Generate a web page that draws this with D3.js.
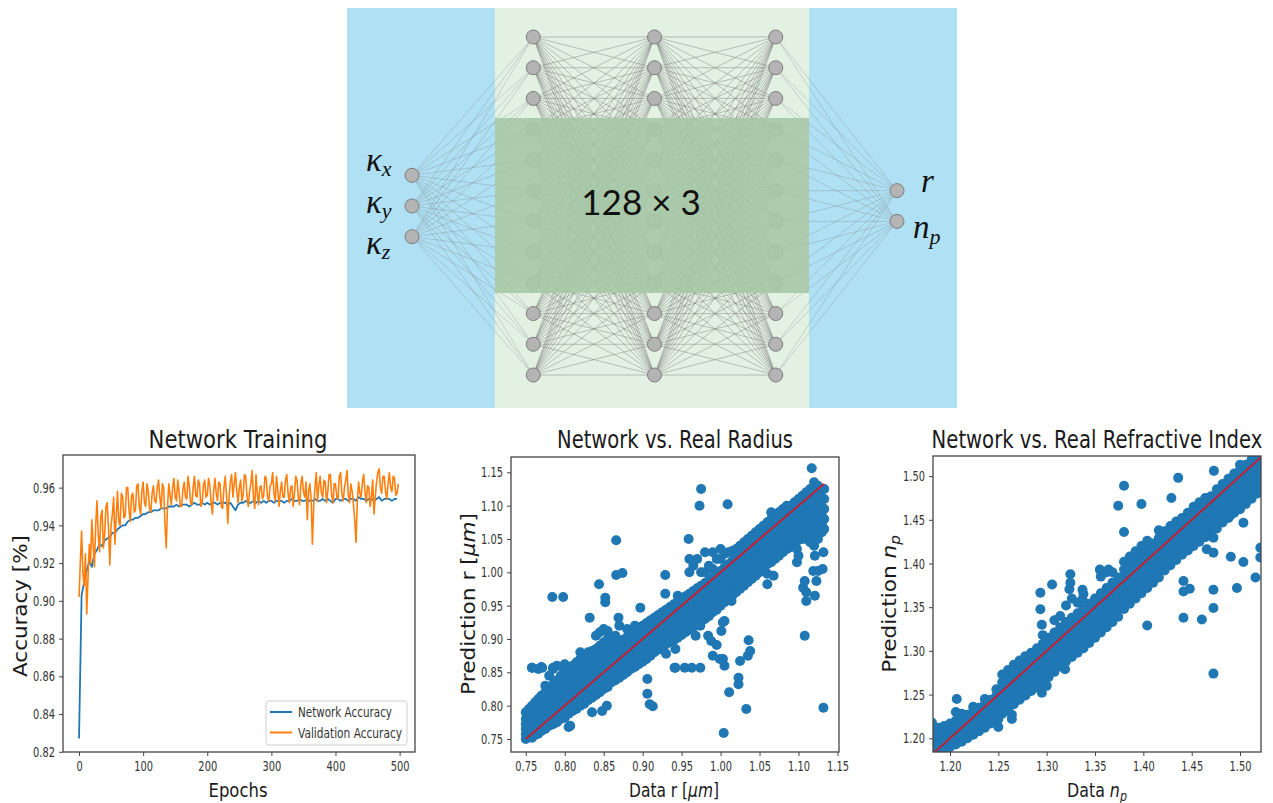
<!DOCTYPE html>
<html>
<head>
<meta charset="utf-8">
<script src="https://cdn.jsdelivr.net/npm/d3@7"></script>
<style>
  body { margin: 0; background: #fff; }
  svg { display: block; }
</style>
</head>
<body>
<div id="chart"></div>
<script>
// ---------- network diagram ----------
const layerNames = ["input", "hidden1", "hidden2", "hidden3", "output"];
const layerSizes = [3, 12, 12, 12, 2];
const inputSubs = ["x", "y", "z"];
const outputLabels = [["r", ""], ["n", "p"]];
const hiddenLabel = "128 × 3";

// ---------- training curves ----------
// network accuracy read every 4 epochs, validation accuracy every 2 epochs
const networkEpochs = d3.range(0, 500, 4);
const networkAcc = [
  0.827,0.903,0.910,0.916,0.921,0.918,0.925,0.927,0.930,0.929,
  0.932,0.933,0.934,0.936,0.936,0.938,0.939,0.940,0.940,0.942,
  0.943,0.943,0.944,0.944,0.945,0.946,0.946,0.947,0.947,0.948,
  0.948,0.948,0.949,0.949,0.949,0.950,0.950,0.950,0.951,0.950,
  0.951,0.951,0.951,0.950,0.951,0.952,0.951,0.951,0.952,0.951,
  0.952,0.951,0.952,0.952,0.951,0.952,0.952,0.952,0.951,0.952,
  0.950,0.948,0.951,0.952,0.952,0.953,0.952,0.952,0.953,0.952,
  0.953,0.952,0.953,0.952,0.953,0.953,0.952,0.953,0.953,0.953,
  0.952,0.953,0.953,0.954,0.953,0.953,0.954,0.953,0.953,0.954,
  0.953,0.953,0.954,0.953,0.953,0.954,0.953,0.954,0.953,0.952,
  0.954,0.954,0.953,0.954,0.954,0.953,0.954,0.954,0.953,0.955,
  0.954,0.954,0.953,0.954,0.954,0.953,0.954,0.955,0.953,0.954,
  0.954,0.954,0.953,0.954,0.954
];
const validationEpochs = d3.range(0, 500, 2);
const validationAcc = [
  0.902,0.920,0.937,0.915,0.908,0.925,0.893,0.912,0.930,0.920,0.943,0.930,0.918,0.940,0.953,0.935,0.926,0.945,0.948,0.928,
  0.935,0.950,0.952,0.938,0.919,0.940,0.946,0.955,0.930,0.945,0.958,0.942,0.940,0.957,0.955,0.944,0.945,0.960,0.960,0.948,
  0.942,0.956,0.957,0.947,0.948,0.961,0.962,0.950,0.946,0.958,0.963,0.952,0.950,0.962,0.958,0.949,0.947,0.957,0.961,0.953,
  0.952,0.960,0.964,0.955,0.949,0.962,0.960,0.941,0.928,0.950,0.962,0.956,0.951,0.960,0.965,0.955,0.953,0.964,0.958,0.950,
  0.950,0.959,0.963,0.955,0.954,0.966,0.961,0.952,0.951,0.960,0.966,0.956,0.955,0.964,0.962,0.950,0.952,0.961,0.964,0.955,
  0.956,0.965,0.961,0.952,0.946,0.958,0.965,0.957,0.953,0.963,0.962,0.950,0.949,0.960,0.966,0.956,0.941,0.955,0.963,0.967,
  0.955,0.962,0.968,0.958,0.952,0.960,0.964,0.953,0.956,0.967,0.966,0.955,0.950,0.958,0.962,0.969,0.955,0.949,0.967,0.957,
  0.951,0.960,0.961,0.954,0.956,0.966,0.965,0.955,0.953,0.961,0.962,0.968,0.957,0.953,0.966,0.959,0.950,0.958,0.963,0.955,
  0.955,0.964,0.967,0.957,0.952,0.960,0.961,0.950,0.957,0.966,0.964,0.955,0.951,0.962,0.966,0.958,0.955,0.963,0.943,0.958,
  0.962,0.954,0.930,0.950,0.960,0.968,0.953,0.961,0.966,0.957,0.955,0.964,0.963,0.952,0.958,0.967,0.967,0.956,0.952,0.962,
  0.962,0.955,0.954,0.966,0.968,0.957,0.953,0.960,0.964,0.969,0.956,0.952,0.962,0.958,0.951,0.943,0.931,0.952,0.963,0.957,
  0.955,0.963,0.967,0.958,0.952,0.961,0.960,0.950,0.955,0.964,0.946,0.955,0.963,0.968,0.970,0.960,0.957,0.966,0.966,0.958,
  0.954,0.962,0.968,0.960,0.958,0.966,0.965,0.956,0.957,0.962
];
const epochTicks = [0, 100, 200, 300, 400, 500];
const accTicks = [0.82, 0.84, 0.86, 0.88, 0.90, 0.92, 0.94, 0.96];

// ---------- radius scatter: columns [data r, predicted r values] ----------
const radiusColumns = [
  [0.750,[0.750,0.757,0.765,0.772,0.780,0.790]],
  [0.754,[0.753,0.760,0.768,0.776,0.785,0.795]],
  [0.758,[0.752,0.762,0.770,0.778,0.787,0.800,0.857]],
  [0.762,[0.756,0.765,0.773,0.782,0.792,0.805]],
  [0.766,[0.758,0.768,0.777,0.786,0.796,0.810,0.855]],
  [0.770,[0.762,0.771,0.780,0.790,0.800,0.815,0.858]],
  [0.775,[0.765,0.775,0.785,0.795,0.806,0.820,0.830]],
  [0.780,[0.770,0.780,0.790,0.800,0.812,0.825,0.845]],
  [0.785,[0.772,0.783,0.794,0.806,0.818,0.832,0.855]],
  [0.790,[0.775,0.788,0.800,0.812,0.824,0.838,0.860]],
  [0.795,[0.780,0.792,0.804,0.816,0.830,0.845]],
  [0.800,[0.782,0.795,0.808,0.820,0.834,0.850,0.862]],
  [0.805,[0.768,0.788,0.800,0.813,0.826,0.840,0.855]],
  [0.810,[0.792,0.805,0.818,0.831,0.845,0.860]],
  [0.815,[0.795,0.808,0.822,0.836,0.850,0.865]],
  [0.820,[0.800,0.813,0.826,0.840,0.855,0.870,0.880]],
  [0.825,[0.803,0.817,0.830,0.845,0.860,0.875]],
  [0.830,[0.808,0.822,0.835,0.850,0.865,0.880]],
  [0.835,[0.790,0.812,0.826,0.840,0.855,0.868,0.882]],
  [0.840,[0.816,0.830,0.845,0.858,0.872,0.885,0.905]],
  [0.845,[0.820,0.834,0.848,0.862,0.876,0.890,0.910]],
  [0.850,[0.825,0.838,0.852,0.866,0.880,0.895,0.915]],
  [0.855,[0.828,0.842,0.856,0.870,0.884,0.900,0.912]],
  [0.860,[0.835,0.848,0.861,0.874,0.888,0.902]],
  [0.865,[0.838,0.852,0.865,0.878,0.892,0.905]],
  [0.870,[0.842,0.856,0.869,0.882,0.895,0.920]],
  [0.875,[0.846,0.860,0.873,0.886,0.899]],
  [0.880,[0.850,0.864,0.877,0.890,0.903,0.915]],
  [0.885,[0.855,0.868,0.882,0.895,0.908]],
  [0.890,[0.858,0.872,0.886,0.899,0.912,0.920]],
  [0.895,[0.862,0.876,0.890,0.903,0.916]],
  [0.900,[0.866,0.880,0.894,0.907,0.920]],
  [0.905,[0.870,0.884,0.898,0.911,0.924]],
  [0.910,[0.875,0.888,0.902,0.915,0.928]],
  [0.915,[0.880,0.893,0.906,0.919,0.932]],
  [0.920,[0.884,0.897,0.910,0.923,0.936]],
  [0.925,[0.888,0.901,0.914,0.927,0.940]],
  [0.930,[0.878,0.892,0.905,0.918,0.931,0.944]],
  [0.935,[0.895,0.909,0.922,0.935,0.948]],
  [0.940,[0.898,0.912,0.926,0.939,0.952]],
  [0.945,[0.902,0.916,0.930,0.943,0.956,0.965]],
  [0.950,[0.906,0.920,0.934,0.947,0.960]],
  [0.955,[0.910,0.924,0.938,0.951,0.964]],
  [0.960,[0.914,0.928,0.942,0.955,0.968,1.000,1.020]],
  [0.965,[0.918,0.932,0.946,0.959,0.972,1.010]],
  [0.970,[0.922,0.936,0.950,0.963,0.976,1.020]],
  [0.975,[0.926,0.940,0.954,0.967,0.980,1.000]],
  [0.980,[0.930,0.944,0.958,0.971,0.984,1.000,1.030]],
  [0.985,[0.934,0.948,0.962,0.975,0.988,1.010]],
  [0.990,[0.940,0.953,0.966,0.979,0.992,1.005,1.030]],
  [0.995,[0.944,0.958,0.971,0.984,0.997,1.020]],
  [1.000,[0.950,0.963,0.976,0.989,1.002,1.020,1.035]],
  [1.005,[0.955,0.968,0.981,0.994,1.007,1.028]],
  [1.010,[0.960,0.973,0.986,0.999,1.012,1.030]],
  [1.015,[0.965,0.978,0.991,1.004,1.017,1.032]],
  [1.020,[0.970,0.983,0.996,1.009,1.022,1.035]],
  [1.025,[0.975,0.988,1.001,1.014,1.027,1.040]],
  [1.030,[0.980,0.993,1.006,1.019,1.032,1.045]],
  [1.035,[0.985,0.998,1.011,1.024,1.037,1.050]],
  [1.040,[0.990,1.003,1.016,1.029,1.042,1.055]],
  [1.045,[0.995,1.008,1.021,1.034,1.047,1.060]],
  [1.050,[1.000,1.013,1.026,1.039,1.052,1.065]],
  [1.055,[1.005,1.018,1.031,1.044,1.057,1.070]],
  [1.060,[0.998,1.012,1.025,1.038,1.051,1.064,1.075]],
  [1.065,[1.015,1.028,1.041,1.054,1.067,1.080,1.090]],
  [1.070,[1.020,1.033,1.046,1.059,1.072,1.085]],
  [1.075,[1.025,1.038,1.051,1.064,1.077,1.090]],
  [1.080,[1.030,1.043,1.056,1.069,1.082,1.095]],
  [1.085,[1.035,1.048,1.061,1.074,1.087,1.100]],
  [1.090,[1.040,1.053,1.066,1.079,1.092,1.100]],
  [1.095,[1.045,1.058,1.071,1.084,1.097,1.105]],
  [1.100,[1.048,1.061,1.074,1.087,1.100,1.110]],
  [1.105,[1.050,1.063,1.076,1.089,1.102,1.115]],
  [1.110,[1.050,1.063,1.076,1.089,1.102,1.120]],
  [1.115,[1.045,1.058,1.071,1.084,1.097,1.110,1.125]],
  [1.120,[1.040,1.055,1.068,1.081,1.094,1.107,1.120,1.135]],
  [1.125,[1.050,1.065,1.078,1.091,1.104,1.117,1.130]],
  [1.130,[1.060,1.072,1.085,1.098,1.111,1.124]],
  [1.133,[1.065,1.080,1.095,1.110,1.125]]
];
const radiusOutliers = [
  [0.866,1.048],[0.784,0.963],[0.798,0.963],[0.844,0.982],[0.866,0.996],[0.874,0.999],
  [0.929,0.996],[0.929,0.968],[0.852,0.962],[0.852,0.955],[0.897,0.947],[0.832,0.932],
  [0.869,0.932],[0.906,0.840],[0.906,0.818],[0.909,0.802],[0.913,0.799],[0.941,0.857],
  [0.807,0.770],[0.854,0.800],[0.848,0.792],[0.758,0.857],[0.771,0.857],[0.785,0.857],
  [0.798,0.857],[1.117,1.156],[0.975,1.125],[0.973,1.100],[1.009,1.102],[0.959,1.050],
  [1.108,0.905],[1.132,0.797],[1.004,0.759],[1.033,0.795],[1.011,0.820],[1.023,0.842],
  [1.023,0.832],[1.025,0.867],[1.035,0.875],[1.038,0.882],[1.036,0.898],[0.990,0.875],
  [0.999,0.870],[1.003,0.870],[1.005,0.860],[1.001,0.912],[1.005,0.927],[1.003,0.925],
  [0.984,0.905],[0.988,0.897],[0.995,0.891],[0.942,0.857],[0.954,0.857],[0.963,0.857],
  [0.974,0.857],[0.942,0.885],[1.108,0.987],[1.106,0.977],[1.110,0.970],[1.110,0.957],
  [1.121,0.965],[1.132,1.030],[1.131,1.005],[1.125,1.002],[1.119,1.002],[1.123,0.987],
  [1.121,1.025],[1.098,1.035],[1.100,1.025],[1.098,1.015],[1.060,0.982],[1.068,0.995],
  [1.014,0.957],[1.011,0.975],[0.974,0.920],[0.968,0.905],[1.086,1.045],[1.088,1.037]
];
const radiusFit = [0.75, 1.133];
const radiusTicks = [0.75, 0.80, 0.85, 0.90, 0.95, 1.00, 1.05, 1.10, 1.15];

// ---------- refractive index scatter ----------
const indexColumns = [
  [1.182,[1.183,1.192,1.201,1.210]],
  [1.188,[1.185,1.194,1.203,1.212]],
  [1.194,[1.187,1.196,1.205,1.214]],
  [1.200,[1.190,1.199,1.208,1.217]],
  [1.206,[1.193,1.202,1.211,1.220,1.230]],
  [1.212,[1.196,1.205,1.214,1.223,1.228]],
  [1.218,[1.200,1.209,1.218,1.227]],
  [1.224,[1.204,1.213,1.222,1.231,1.236]],
  [1.230,[1.208,1.217,1.226,1.235]],
  [1.236,[1.212,1.221,1.230,1.239,1.245]],
  [1.242,[1.217,1.226,1.235,1.244]],
  [1.248,[1.222,1.231,1.240,1.249,1.256]],
  [1.254,[1.228,1.237,1.246,1.255,1.264,1.273]],
  [1.260,[1.233,1.242,1.251,1.260,1.269,1.278]],
  [1.266,[1.239,1.248,1.257,1.266,1.275,1.284]],
  [1.272,[1.244,1.253,1.262,1.271,1.280,1.289]],
  [1.278,[1.249,1.258,1.267,1.276,1.285,1.294]],
  [1.284,[1.254,1.263,1.272,1.281,1.290,1.298]],
  [1.290,[1.258,1.267,1.276,1.285,1.294,1.303]],
  [1.296,[1.263,1.272,1.281,1.290,1.299,1.308,1.318]],
  [1.302,[1.270,1.279,1.288,1.297,1.306,1.315]],
  [1.308,[1.276,1.285,1.294,1.303,1.312,1.321,1.335]],
  [1.314,[1.282,1.291,1.300,1.309,1.318,1.327,1.340]],
  [1.320,[1.288,1.297,1.306,1.315,1.324,1.333,1.352]],
  [1.326,[1.293,1.302,1.311,1.320,1.329,1.338,1.360]],
  [1.332,[1.298,1.307,1.316,1.325,1.334,1.343,1.355]],
  [1.338,[1.303,1.312,1.321,1.330,1.339,1.348,1.365]],
  [1.344,[1.309,1.318,1.327,1.336,1.345,1.354]],
  [1.350,[1.315,1.324,1.333,1.342,1.351,1.360]],
  [1.356,[1.321,1.330,1.339,1.348,1.357,1.366,1.385]],
  [1.362,[1.327,1.336,1.345,1.354,1.363,1.372,1.390]],
  [1.368,[1.333,1.342,1.351,1.360,1.369,1.378,1.390]],
  [1.374,[1.339,1.348,1.357,1.366,1.375,1.384]],
  [1.380,[1.348,1.357,1.366,1.375,1.384,1.393,1.402]],
  [1.386,[1.354,1.363,1.372,1.381,1.390,1.399,1.408]],
  [1.392,[1.360,1.369,1.378,1.387,1.396,1.405,1.414]],
  [1.398,[1.366,1.375,1.384,1.393,1.402,1.411,1.420]],
  [1.404,[1.372,1.381,1.390,1.399,1.408,1.417,1.426]],
  [1.410,[1.378,1.387,1.396,1.405,1.414,1.423]],
  [1.416,[1.384,1.393,1.402,1.411,1.420,1.429,1.438]],
  [1.422,[1.392,1.401,1.410,1.419,1.428,1.437]],
  [1.428,[1.398,1.407,1.416,1.425,1.434,1.443]],
  [1.434,[1.404,1.413,1.422,1.431,1.440,1.448]],
  [1.440,[1.410,1.419,1.428,1.437,1.446,1.452]],
  [1.446,[1.415,1.424,1.433,1.442,1.451,1.458]],
  [1.452,[1.420,1.429,1.438,1.447,1.456,1.465]],
  [1.458,[1.425,1.434,1.443,1.452,1.461,1.470]],
  [1.464,[1.430,1.439,1.448,1.457,1.466,1.475]],
  [1.470,[1.432,1.441,1.450,1.459,1.468,1.477]],
  [1.476,[1.440,1.449,1.458,1.467,1.476,1.485]],
  [1.482,[1.447,1.456,1.465,1.474,1.483,1.491]],
  [1.488,[1.452,1.461,1.470,1.479,1.488,1.497]],
  [1.494,[1.458,1.467,1.476,1.485,1.494,1.503]],
  [1.500,[1.462,1.471,1.480,1.489,1.498,1.507,1.513]],
  [1.506,[1.468,1.477,1.486,1.495,1.504,1.513]],
  [1.512,[1.474,1.483,1.492,1.501,1.510,1.519]],
  [1.518,[1.480,1.489,1.498,1.507,1.516,1.524]],
  [1.522,[1.485,1.494,1.503,1.512]]
];
const indexOutliers = [
  [1.1814,1.2178],[1.207,1.245],[1.250,1.213],[1.250,1.222],[1.264,1.227],[1.264,1.222],
  [1.2935,1.3666],[1.2935,1.3476],[1.295,1.330],[1.3056,1.376],[1.3245,1.3877],[1.3245,1.378],
  [1.3235,1.3705],[1.300,1.260],[1.295,1.252],[1.319,1.279],[1.337,1.370],[1.337,1.359],
  [1.380,1.489],[1.374,1.466],[1.398,1.468],[1.380,1.436],[1.436,1.498],[1.429,1.475],
  [1.473,1.506],[1.404,1.329],[1.4415,1.380],[1.4415,1.368],[1.448,1.371],[1.4415,1.338],
  [1.4605,1.336],[1.4725,1.370],[1.4725,1.349],[1.4725,1.274],[1.4968,1.372],[1.4905,1.4078],
  [1.5035,1.4017],[1.516,1.384],[1.521,1.418],[1.521,1.407],[1.5035,1.4467],[1.490,1.455],
  [1.4725,1.4296],[1.4725,1.4124],[1.4656,1.4163],[1.355,1.393],[1.364,1.393],[1.4225,1.395]
];
const indexFit = [1.17, 1.53];
const indexTicks = [1.20, 1.25, 1.30, 1.35, 1.40, 1.45, 1.50];

const BLUE = "#1f77b4", ORANGE = "#ff7f0e";
const plotFont = "'DejaVu Sans', sans-serif";

const svg = d3.select("#chart").append("svg")
    .attr("width", 1273)
    .attr("height", 803);
svg.append("rect").attr("width", 1273).attr("height", 803).attr("fill", "#fff");

// ======== network diagram ========
const diagram = svg.append("g");
diagram.append("rect").attr("x", 347).attr("y", 8).attr("width", 610).attr("height", 400).attr("fill", "#afe0f3");
diagram.append("rect").attr("x", 495).attr("y", 8).attr("width", 314).attr("height", 400).attr("fill", "#e3f1e3");

const layerX = d3.scalePoint().domain(layerNames).range([412, 897]);
const nodeY = d3.scaleLinear().domain([-5.5, 5.5]).range([37, 375]);

const layers = layerNames.map((name, li) =>
    d3.range(layerSizes[li]).map(i => ({
        layer: name,
        i: i,
        x: layerX(name),
        y: nodeY(i - (layerSizes[li] - 1) / 2)
    }))
);
const edges = [];
for (let li = 0; li < layers.length - 1; li++) {
    layers[li].forEach(a => layers[li + 1].forEach(b => edges.push([a, b, li])));
}

diagram.append("g").selectAll("line")
    .data(edges)
    .join("line")
    .attr("x1", d => d[0].x).attr("y1", d => d[0].y)
    .attr("x2", d => d[1].x).attr("y2", d => d[1].y)
    .attr("stroke", "#7a7a7a")
    .attr("stroke-width", d => (d[2] === 0 || d[2] === 3) ? 0.5 : 0.6)
    .attr("stroke-opacity", d => (d[2] === 0 || d[2] === 3) ? 0.55 : 0.75);

diagram.append("g").selectAll("circle")
    .data(layers.flat())
    .join("circle")
    .attr("cx", d => d.x).attr("cy", d => d.y)
    .attr("r", 7)
    .attr("fill", "#b4b4b4")
    .attr("stroke", "#7d7d7d")
    .attr("stroke-width", 1);

// darker band over the middle of the hidden layers
diagram.append("rect")
    .attr("x", 495).attr("y", 118).attr("width", 314).attr("height", 175)
    .attr("fill", "#a6c8a6").attr("fill-opacity", 0.9);

diagram.append("text")
    .attr("x", 641).attr("y", 215)
    .attr("text-anchor", "middle")
    .style("font-family", "Lato, 'Open Sans', sans-serif")
    .style("font-size", "35px")
    .attr("fill", "#111")
    .text(hiddenLabel);

const mathFont = "'Liberation Serif', 'DejaVu Serif', serif";
const inLabelY = d3.scaleLinear().domain([0, 2]).range([171, 254]);
inputSubs.forEach((s, i) => {
    const t = diagram.append("text")
        .attr("x", 366).attr("y", inLabelY(i))
        .style("font-family", mathFont).style("font-style", "italic")
        .style("font-size", "33px").attr("fill", "#111");
    t.append("tspan").text("κ");
    t.append("tspan").attr("dy", 5).style("font-size", "22px").text(s);
});
const outLabelY = d3.scaleLinear().domain([0, 1]).range([192, 238]);
outputLabels.forEach(([base, sub], i) => {
    const t = diagram.append("text")
        .attr("x", i === 0 ? 921 : 913).attr("y", outLabelY(i))
        .style("font-family", mathFont).style("font-style", "italic")
        .style("font-size", "33px").attr("fill", "#111");
    t.append("tspan").text(base);
    if (sub) t.append("tspan").attr("dy", 6).style("font-size", "22px").text(sub);
});

// ======== helpers for the plots ========
// the source figure is squeezed horizontally, so texts are scaled to the widths read off it
function placeSqueezed(t, x, y, width, rotate) {
    const w = t.node().getBBox().width;
    const s = width / w;
    t.attr("transform", `translate(${x},${y})${rotate ? " rotate(-90)" : ""} scale(${s},1)`);
}

function styleAxis(g) {
    g.select(".domain").remove();
    g.selectAll(".tick line").attr("stroke", "#444").attr("stroke-width", 1);
    g.selectAll(".tick text")
        .attr("fill", "#333")
        .style("font-family", plotFont)
        .style("font-size", "14.5px")
        .each(function () {
            const w = this.getComputedTextLength();
            d3.select(this).attr("textLength", w * 0.68).attr("lengthAdjust", "spacingAndGlyphs");
        });
}

function frame(box) {
    svg.append("rect")
        .attr("x", box.x0).attr("y", box.y0)
        .attr("width", box.x1 - box.x0).attr("height", box.y1 - box.y0)
        .attr("fill", "none").attr("stroke", "#444").attr("stroke-width", 1.3);
}

function labelText(size) {
    return svg.append("text")
        .attr("text-anchor", "middle")
        .style("font-family", plotFont).style("font-size", size + "px")
        .attr("fill", "#1a1a1a");
}

function title(text, cx, width) {
    const t = labelText(24.5).text(text);
    placeSqueezed(t, cx, 448, width, false);
}

function xLabel(parts, cx, width) {
    const t = labelText(20);
    parts(t);
    placeSqueezed(t, cx, 797, width, false);
}

function yLabel(parts, x, cy, width) {
    const t = labelText(20);
    parts(t);
    placeSqueezed(t, x, cy, width, true);
}

// ======== Network Training ========
const trainBox = { x0: 63, x1: 415, y0: 455, y1: 752 };
const epochScale = d3.scaleLinear().domain([-25, 524]).range([trainBox.x0, trainBox.x1]);
const accScale = d3.scaleLinear().domain([0.8199, 0.9773]).range([trainBox.y1, trainBox.y0]);

svg.append("path").datum(networkAcc)
    .attr("d", d3.line().x((d, i) => epochScale(networkEpochs[i])).y(d => accScale(d)))
    .attr("fill", "none")
    .attr("stroke", BLUE).attr("stroke-width", 1.8).attr("stroke-linejoin", "round");
svg.append("path").datum(validationAcc)
    .attr("d", d3.line().x((d, i) => epochScale(validationEpochs[i])).y(d => accScale(d)))
    .attr("fill", "none")
    .attr("stroke", ORANGE).attr("stroke-width", 1.6).attr("stroke-linejoin", "round");

frame(trainBox);
svg.append("g").attr("transform", `translate(0,${trainBox.y1})`)
    .call(d3.axisBottom(epochScale).tickValues(epochTicks).tickSize(4).tickPadding(5))
    .call(styleAxis);
svg.append("g").attr("transform", `translate(${trainBox.x0},0)`)
    .call(d3.axisLeft(accScale).tickValues(accTicks).tickFormat(d3.format(".2f")).tickSize(4).tickPadding(4))
    .call(styleAxis);

// legend
const legend = svg.append("g").attr("transform", "translate(266,701)");
legend.append("rect").attr("width", 141).attr("height", 44).attr("rx", 3)
    .attr("fill", "#fff").attr("fill-opacity", 0.85).attr("stroke", "#cfcfcf");
[["Network Accuracy", BLUE, 94], ["Validation Accuracy", ORANGE, 104]].forEach(([label, color, w], i) => {
    const row = legend.append("g").attr("transform", `translate(0,${11 + i * 20.5})`);
    row.append("line").attr("x1", 4).attr("x2", 26).attr("stroke", color).attr("stroke-width", 2);
    row.append("text").attr("x", 32).attr("y", 5)
        .style("font-family", plotFont).style("font-size", "14px").attr("fill", "#333")
        .text(label)
        .attr("textLength", w).attr("lengthAdjust", "spacingAndGlyphs");
});

title("Network Training", 238, 179);
xLabel(t => t.text("Epochs"), 238, 59);
yLabel(t => t.text("Accuracy [%]"), 27, 606, 142);

// ======== scatter helper ========
function scatter(box, xDomain, yDomain, columns, outliers, fit, ticks, clipId) {
    const xs = d3.scaleLinear().domain(xDomain).range([box.x0, box.x1]);
    const ys = d3.scaleLinear().domain(yDomain).range([box.y1, box.y0]);
    const points = columns.flatMap(([x, vals]) => vals.map(y => [x, y])).concat(outliers);

    svg.append("clipPath").attr("id", clipId).append("rect")
        .attr("x", box.x0).attr("y", box.y0)
        .attr("width", box.x1 - box.x0).attr("height", box.y1 - box.y0);

    const g = svg.append("g").attr("clip-path", `url(#${clipId})`);
    g.selectAll("circle")
        .data(points)
        .join("circle")
        .attr("cx", d => xs(d[0]))
        .attr("cy", d => ys(d[1]))
        .attr("r", 5)
        .attr("fill", BLUE);

    g.append("line")
        .attr("x1", xs(fit[0])).attr("y1", ys(fit[0]))
        .attr("x2", xs(fit[1])).attr("y2", ys(fit[1]))
        .attr("stroke", "red").attr("stroke-opacity", 0.72).attr("stroke-width", 2);

    frame(box);
    svg.append("g").attr("transform", `translate(0,${box.y1})`)
        .call(d3.axisBottom(xs).tickValues(ticks).tickFormat(d3.format(".2f")).tickSize(4).tickPadding(5))
        .call(styleAxis);
    svg.append("g").attr("transform", `translate(${box.x0},0)`)
        .call(d3.axisLeft(ys).tickValues(ticks).tickFormat(d3.format(".2f")).tickSize(4).tickPadding(4))
        .call(styleAxis);
}

// ======== Network vs. Real Radius ========
const radiusBox = { x0: 511, x1: 839, y0: 457, y1: 752 };
scatter(radiusBox, [0.731, 1.152], [0.7305, 1.173], radiusColumns, radiusOutliers, radiusFit, radiusTicks, "clip-radius");
title("Network vs. Real Radius", 675, 236);
xLabel(t => {
    t.append("tspan").text("Data r [");
    t.append("tspan").style("font-style", "italic").text("μm");
    t.append("tspan").text("]");
}, 674, 90);
yLabel(t => {
    t.append("tspan").text("Prediction r [");
    t.append("tspan").style("font-style", "italic").text("μm");
    t.append("tspan").text("]");
}, 475, 604, 182);

// ======== Network vs. Real Refractive Index ========
const indexBox = { x0: 933, x1: 1261, y0: 456, y1: 752 };
scatter(indexBox, [1.1824, 1.5217], [1.1843, 1.523], indexColumns, indexOutliers, indexFit, indexTicks, "clip-index");
title("Network vs. Real Refractive Index", 1097, 331);
xLabel(t => {
    t.append("tspan").text("Data ");
    t.append("tspan").style("font-style", "italic").text("n");
    t.append("tspan").style("font-style", "italic").style("font-size", "14px").attr("dy", 4).text("p");
}, 1097, 60);
yLabel(t => {
    t.append("tspan").text("Prediction ");
    t.append("tspan").style("font-style", "italic").text("n");
    t.append("tspan").style("font-style", "italic").style("font-size", "14px").attr("dy", 4).text("p");
}, 896, 604, 138);
</script>
</body>
</html>
